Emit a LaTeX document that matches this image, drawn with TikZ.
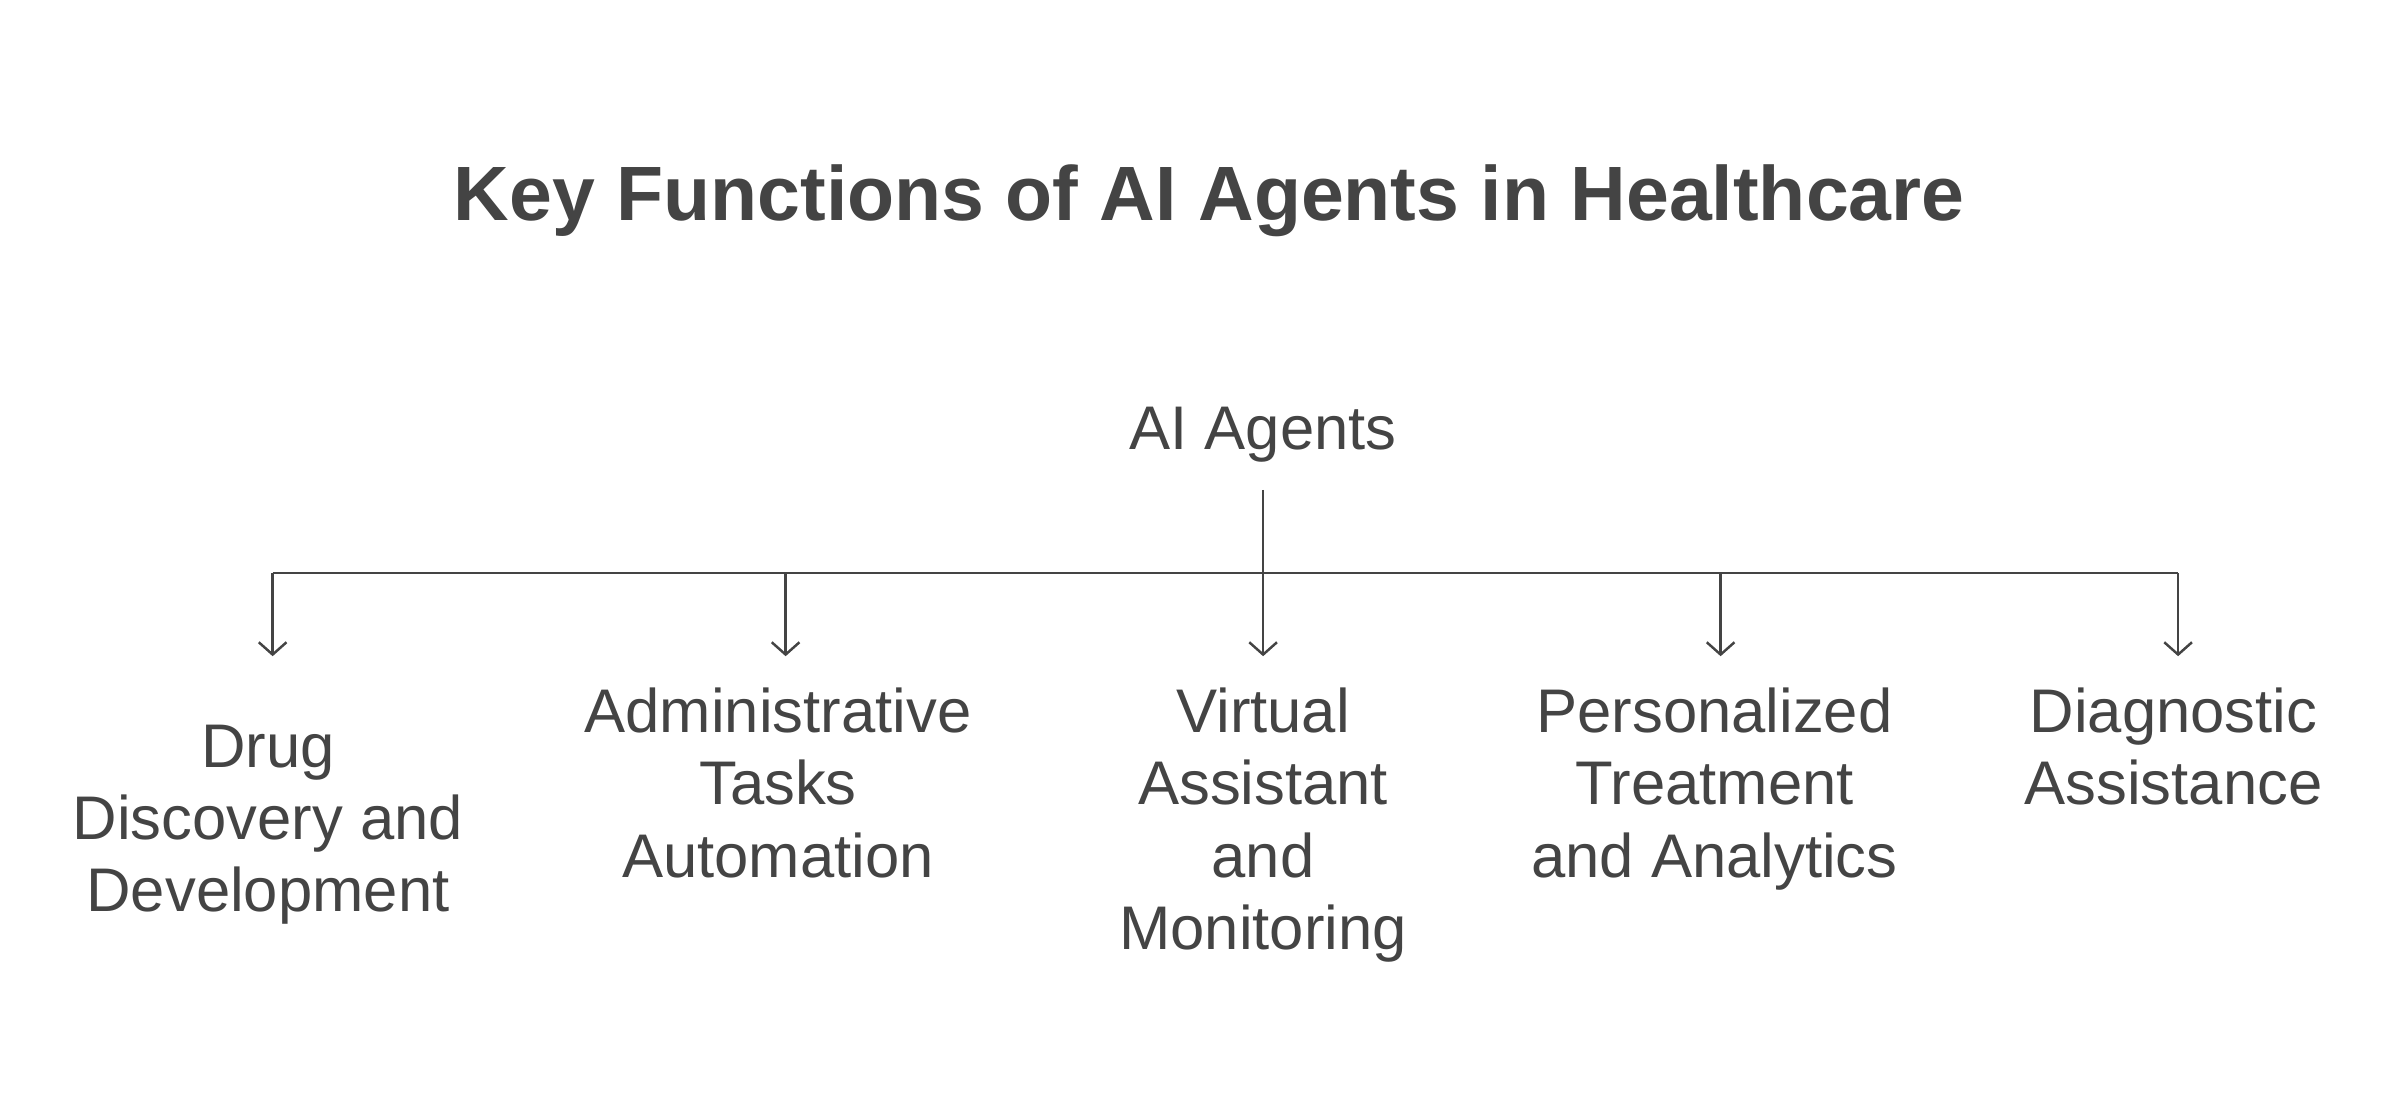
\documentclass[tikz,border=0pt]{standalone}
\usepackage{fontspec}
\setmainfont{Liberation Sans}
\usetikzlibrary{arrows.meta}
\definecolor{ink}{HTML}{444444}
\begin{document}
\begin{tikzpicture}[x=0.5pt,y=-0.5pt,
  lbl/.style={text=ink,font=\fontsize{20}{23.5}\selectfont,align=center,anchor=north,inner sep=0pt},
  con/.style={draw=ink,line width=0.8pt},
  arr/.style={con,-{Straight Barb[length=4pt,width=9pt]}}]
\useasboundingbox (0,0) rectangle (1560,719);
\node[text=ink,font=\bfseries\fontsize{25}{30}\selectfont] (title) at (785,130) {Key Functions of AI Agents in Healthcare};
\node[text=ink,font=\fontsize{20}{24}\selectfont,inner sep=0pt] (root) at (820,282) {AI Agents};
\coordinate (top) at (820,318);
\coordinate (j) at (820,372);
\coordinate (l) at (177,372);
\coordinate (r) at (1414,372);
\node[lbl] (d) at (174,470) {Drug\\Discovery and\\Development};
\node[lbl] (a) at (505,446) {Administrative\\Tasks\\Automation};
\node[lbl] (v) at (820,446) {Virtual\\Assistant\\and\\Monitoring};
\node[lbl] (p) at (1113,446) {Personalized\\Treatment\\and Analytics};
\node[lbl] (g) at (1411,446) {Diagnostic\\Assistance};
\coordinate (ta) at (177,426);
\coordinate (tb) at (510,426);
\coordinate (tc) at (820,426);
\coordinate (td) at (1117,426);
\coordinate (te) at (1414,426);
\draw[con] (top) -- (j);
\draw[con] (l) -- (r);
\draw[arr] (l) -- (ta);
\draw[arr] (510,372) -- (tb);
\draw[arr] (j) -- (tc);
\draw[arr] (1117,372) -- (td);
\draw[arr] (r) -- (te);
\end{tikzpicture}
\end{document}
